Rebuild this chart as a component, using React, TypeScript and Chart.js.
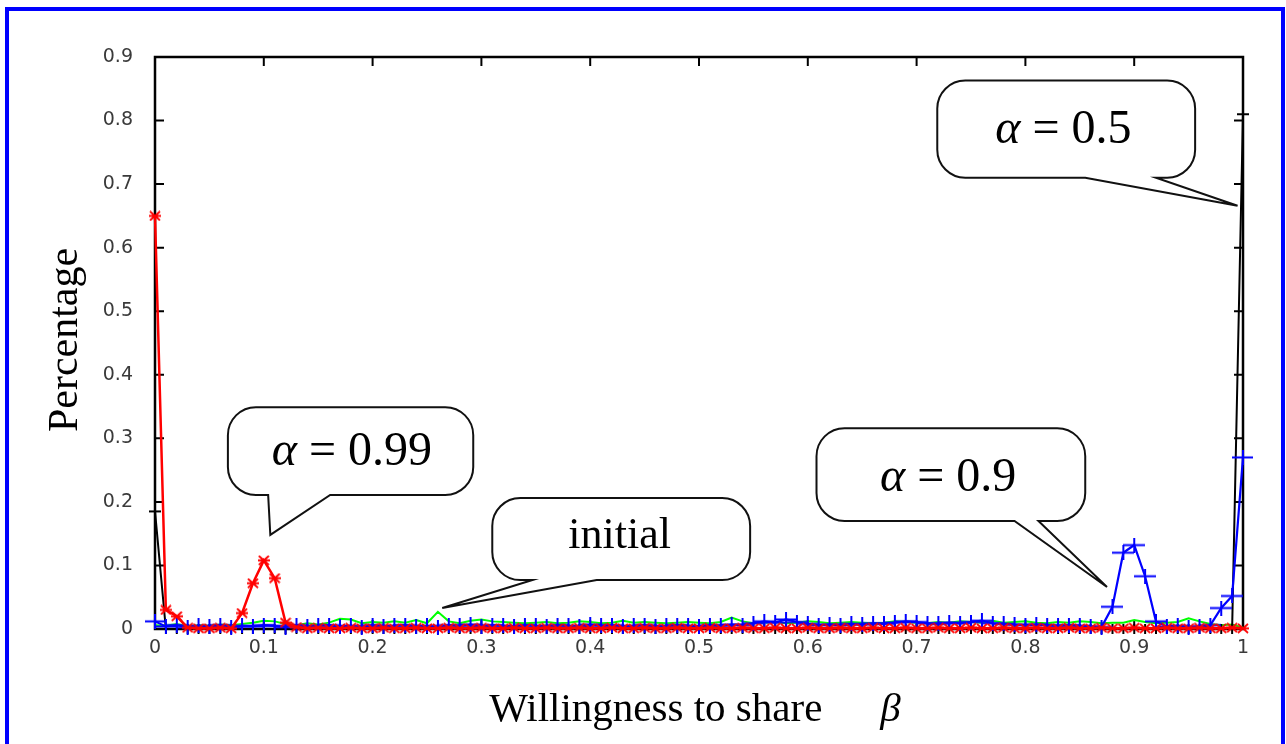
import React, { useEffect, useRef } from "react";
import { Chart, registerables } from "chart.js";
Chart.register(...registerables);

// ---------------- data ----------------
const beta = [
  0, 0.01, 0.02, 0.03, 0.04, 0.05, 0.06, 0.07, 0.08, 0.09,
  0.1, 0.11, 0.12, 0.13, 0.14, 0.15, 0.16, 0.17, 0.18, 0.19,
  0.2, 0.21, 0.22, 0.23, 0.24, 0.25, 0.26, 0.27, 0.28, 0.29,
  0.3, 0.31, 0.32, 0.33, 0.34, 0.35, 0.36, 0.37, 0.38, 0.39,
  0.4, 0.41, 0.42, 0.43, 0.44, 0.45, 0.46, 0.47, 0.48, 0.49,
  0.5, 0.51, 0.52, 0.53, 0.54, 0.55, 0.56, 0.57, 0.58, 0.59,
  0.6, 0.61, 0.62, 0.63, 0.64, 0.65, 0.66, 0.67, 0.68, 0.69,
  0.7, 0.71, 0.72, 0.73, 0.74, 0.75, 0.76, 0.77, 0.78, 0.79,
  0.8, 0.81, 0.82, 0.83, 0.84, 0.85, 0.86, 0.87, 0.88, 0.89,
  0.9, 0.91, 0.92, 0.93, 0.94, 0.95, 0.96, 0.97, 0.98, 0.99,
  1.0,
];

const initialShare = [
  0.006, 0.005, 0.008, 0.004, 0.006, 0.005, 0.007, 0.006, 0.008, 0.01,
  0.013, 0.012, 0.008, 0.006, 0.009, 0.007, 0.01, 0.016, 0.015, 0.009,
  0.011, 0.01, 0.012, 0.01, 0.014, 0.009, 0.027, 0.012, 0.009, 0.013,
  0.015, 0.012, 0.011, 0.01, 0.009, 0.01, 0.011, 0.009, 0.01, 0.012,
  0.011, 0.009, 0.01, 0.013, 0.01, 0.011, 0.01, 0.009, 0.01, 0.011,
  0.01, 0.009, 0.011, 0.018, 0.012, 0.009, 0.01, 0.011, 0.009, 0.01,
  0.012, 0.011, 0.009, 0.01, 0.011, 0.01, 0.009, 0.01, 0.012, 0.011,
  0.01, 0.009, 0.011, 0.01, 0.012, 0.011, 0.01, 0.013, 0.01, 0.011,
  0.012, 0.01, 0.009, 0.011, 0.01, 0.012, 0.011, 0.009, 0.01, 0.01,
  0.014, 0.011, 0.009, 0.01, 0.011, 0.017, 0.012, 0.008, 0.006, 0.007,
  0.002,
];

const alpha05 = [
  0.185, 0, 0, 0, 0, 0, 0, 0, 0, 0,
  0, 0, 0, 0, 0, 0, 0, 0, 0, 0,
  0, 0, 0, 0, 0, 0, 0, 0, 0, 0,
  0, 0, 0, 0, 0, 0, 0, 0, 0, 0,
  0, 0, 0, 0, 0, 0, 0, 0, 0, 0,
  0, 0, 0, 0, 0, 0, 0, 0, 0, 0,
  0, 0, 0, 0, 0, 0, 0, 0, 0, 0,
  0, 0, 0, 0, 0, 0, 0, 0, 0, 0,
  0, 0, 0, 0, 0, 0, 0, 0, 0, 0,
  0, 0, 0, 0, 0, 0, 0, 0, 0, 0,
  0.81,
];

const alpha09 = [
  0.012, 0.004, 0.006, 0.003, 0.005, 0.004, 0.006, 0.003, 0.005, 0.004,
  0.006, 0.005, 0.003, 0.006, 0.004, 0.005, 0.006, 0.004, 0.005, 0.003,
  0.006, 0.004, 0.005, 0.006, 0.004, 0.005, 0.003, 0.006, 0.005, 0.007,
  0.004, 0.006, 0.005, 0.004, 0.006, 0.005, 0.004, 0.006, 0.005, 0.004,
  0.007, 0.005, 0.006, 0.004, 0.005, 0.006, 0.004, 0.005, 0.006, 0.005,
  0.004, 0.006, 0.005, 0.007, 0.006, 0.009, 0.012, 0.01, 0.015, 0.011,
  0.008, 0.006, 0.007, 0.006, 0.008, 0.007, 0.009, 0.008, 0.01, 0.012,
  0.011, 0.009, 0.008, 0.01, 0.009, 0.011, 0.013, 0.009, 0.008, 0.007,
  0.006, 0.007, 0.006, 0.005, 0.006, 0.005, 0.004, 0.003, 0.035, 0.12,
  0.132, 0.083, 0.012, 0.004, 0.005, 0.003, 0.004, 0.006, 0.033, 0.052,
  0.27,
];

const alpha099 = [
  0.65, 0.03, 0.02, 0.002, 0.001, 0.001, 0.002, 0.001, 0.025, 0.072,
  0.108, 0.08, 0.01, 0.003, 0.001, 0.002, 0.001, 0.001, 0.002, 0.001,
  0.001, 0.002, 0.001, 0.001, 0.002, 0.001, 0.001, 0.002, 0.001, 0.001,
  0.002, 0.001, 0.001, 0.002, 0.001, 0.001, 0.002, 0.001, 0.001, 0.002,
  0.001, 0.001, 0.002, 0.001, 0.001, 0.002, 0.001, 0.001, 0.002, 0.001,
  0.001, 0.002, 0.001, 0.001, 0.002, 0.001, 0.001, 0.002, 0.001, 0.001,
  0.002, 0.001, 0.001, 0.002, 0.001, 0.001, 0.002, 0.001, 0.001, 0.002,
  0.001, 0.001, 0.002, 0.001, 0.001, 0.002, 0.001, 0.001, 0.002, 0.001,
  0.001, 0.002, 0.001, 0.001, 0.002, 0.001, 0.001, 0.002, 0.001, 0.001,
  0.002, 0.001, 0.001, 0.002, 0.001, 0.001, 0.002, 0.001, 0.001, 0.002,
  0.001,
];

const xTickLabels = ["0", "0.1", "0.2", "0.3", "0.4", "0.5", "0.6", "0.7", "0.8", "0.9", "1"];
const yTickLabels = ["0", "0.1", "0.2", "0.3", "0.4", "0.5", "0.6", "0.7", "0.8", "0.9"];
const xTitle = "Willingness to share";
const xTitleSymbol = "β";
const yTitle = "Percentage";

// callout annotations (positions in data coordinates)
const callouts = [
  { greek: "α", rest: " = 0.5", plain: "", box: [0.719, 0.956, 0.863, 0.71], base: [0.855, 0.92], tip: [0.995, 0.666], at: [0.835, 0.785] },
  { greek: "α", rest: " = 0.99", plain: "", box: [0.067, 0.2925, 0.349, 0.211], base: [0.104, 0.161], tip: [0.106, 0.148], at: [0.181, 0.278] },
  { greek: "", rest: "", plain: "initial", box: [0.31, 0.547, 0.206, 0.077], base: [0.347, 0.406], tip: [0.264, 0.033], at: [0.427, 0.146] },
  { greek: "α", rest: " = 0.9", plain: "", box: [0.608, 0.855, 0.316, 0.17], base: [0.79, 0.812], tip: [0.875, 0.066], at: [0.729, 0.237] },
];

// ---------------- markers ----------------
function makeCross(w: number, h: number, color: string, lw: number) {
  const c = document.createElement("canvas");
  c.width = w;
  c.height = h;
  const g = c.getContext("2d")!;
  g.strokeStyle = color;
  g.lineWidth = lw;
  g.beginPath();
  g.moveTo(0, h / 2);
  g.lineTo(w, h / 2);
  g.moveTo(w / 2, 0);
  g.lineTo(w / 2, h);
  g.stroke();
  return c;
}
function makeStar(w: number, h: number, color: string, lw: number) {
  const c = document.createElement("canvas");
  c.width = w;
  c.height = h;
  const g = c.getContext("2d")!;
  g.strokeStyle = color;
  g.lineWidth = lw;
  g.beginPath();
  g.moveTo(1, 1);
  g.lineTo(w - 1, h - 1);
  g.moveTo(w - 1, 1);
  g.lineTo(1, h - 1);
  g.moveTo(0, h / 2);
  g.lineTo(w, h / 2);
  g.stroke();
  return c;
}

const framePlugin = {
  id: "frame",
  beforeDatasetsDraw(chart: any) {
    const { ctx, chartArea: a, scales } = chart;
    ctx.save();
    ctx.strokeStyle = "#000";
    ctx.lineWidth = 2.5;
    ctx.strokeRect(a.left, a.top, a.right - a.left, a.bottom - a.top);
    ctx.lineWidth = 2;
    const tl = 9;
    for (let i = 0; i < xTickLabels.length; i++) {
      const px = scales.x.getPixelForValue(i / 10);
      ctx.beginPath();
      ctx.moveTo(px, a.bottom);
      ctx.lineTo(px, a.bottom - tl);
      ctx.moveTo(px, a.top);
      ctx.lineTo(px, a.top + tl);
      ctx.stroke();
    }
    for (let i = 0; i < yTickLabels.length; i++) {
      const py = scales.y.getPixelForValue(i / 10);
      ctx.beginPath();
      ctx.moveTo(a.left, py);
      ctx.lineTo(a.left + tl, py);
      ctx.moveTo(a.right, py);
      ctx.lineTo(a.right - tl, py);
      ctx.stroke();
    }
    ctx.restore();
  },
  afterDatasetsDraw(chart: any) {
    const { ctx, chartArea: a, scales } = chart;
    const X = (v: number) => scales.x.getPixelForValue(v);
    const Y = (v: number) => scales.y.getPixelForValue(v);
    ctx.save();
    for (const c of callouts) {
      const x0 = X(c.box[0]);
      const x1 = X(c.box[1]);
      const y0 = Y(c.box[2]);
      const y1 = Y(c.box[3]);
      const b0 = X(c.base[0]);
      const b1 = X(c.base[1]);
      const tx = X(c.tip[0]);
      const ty = Y(c.tip[1]);
      const r = 28;
      ctx.beginPath();
      ctx.moveTo(x0 + r, y0);
      ctx.lineTo(x1 - r, y0);
      ctx.arcTo(x1, y0, x1, y0 + r, r);
      ctx.lineTo(x1, y1 - r);
      ctx.arcTo(x1, y1, x1 - r, y1, r);
      ctx.lineTo(b1, y1);
      ctx.lineTo(tx, ty);
      ctx.lineTo(b0, y1);
      ctx.lineTo(x0 + r, y1);
      ctx.arcTo(x0, y1, x0, y1 - r, r);
      ctx.lineTo(x0, y0 + r);
      ctx.arcTo(x0, y0, x0 + r, y0, r);
      ctx.closePath();
      ctx.fillStyle = "#fff";
      ctx.fill();
      ctx.strokeStyle = "#111";
      ctx.lineWidth = 2;
      ctx.lineJoin = "miter";
      ctx.stroke();

      const cx = X(c.at[0]);
      const cy = Y(c.at[1]);
      ctx.fillStyle = "#000";
      ctx.textBaseline = "middle";
      ctx.textAlign = "left";
      if (c.plain) {
        ctx.font = '44px "Liberation Serif", serif';
        const w = ctx.measureText(c.plain).width;
        ctx.fillText(c.plain, cx - w / 2, cy);
      } else {
        const fi = 'italic 48px "Liberation Serif", serif';
        const fr = '48px "Liberation Serif", serif';
        ctx.font = fi;
        const wg = ctx.measureText(c.greek).width;
        ctx.font = fr;
        const wr = ctx.measureText(c.rest).width;
        const start = cx - (wg + wr) / 2;
        ctx.font = fi;
        ctx.fillText(c.greek, start, cy);
        ctx.font = fr;
        ctx.fillText(c.rest, start + wg, cy);
      }
    }

    // axis titles
    ctx.fillStyle = "#000";
    ctx.textBaseline = "alphabetic";
    ctx.textAlign = "left";
    ctx.font = '41px "Liberation Serif", serif';
    const wt = ctx.measureText(xTitle).width;
    ctx.font = 'italic 41px "Liberation Serif", serif';
    const wb = ctx.measureText(xTitleSymbol).width;
    const gap = 58;
    const midX = (a.left + a.right) / 2 - 4;
    const sx = midX - (wt + gap + wb) / 2;
    ctx.font = '41px "Liberation Serif", serif';
    ctx.fillText(xTitle, sx, 721);
    ctx.font = 'italic 41px "Liberation Serif", serif';
    ctx.fillText(xTitleSymbol, sx + wt + gap, 721);

    ctx.translate(77, (a.top + a.bottom) / 2 - 3);
    ctx.rotate(-Math.PI / 2);
    ctx.textAlign = "center";
    ctx.font = '42px "Liberation Serif", serif';
    ctx.fillText(yTitle, 0, 0);
    ctx.restore();
  },
};

export default function App() {
  const ref = useRef<HTMLCanvasElement | null>(null);
  useEffect(() => {
    if (!ref.current) return;
    const blueCross = makeCross(22, 15, "#0000ff", 2);
    const redStar = makeStar(12, 11, "#ff0000", 1.8);
    const blackCross = makeCross(12, 10, "#000", 2);
    const pts = (vals: number[]) => beta.map((b, i) => ({ x: b, y: vals[i] }));
    const chart = new Chart(ref.current, {
      type: "line",
      data: {
        datasets: [
          {
            label: "alpha=0.99",
            data: pts(alpha099),
            borderColor: "#ff0000",
            borderWidth: 2.5,
            pointStyle: redStar as any,
            pointRadius: 6,
            order: 0,
            clip: 10,
          },
          {
            label: "alpha=0.9",
            data: pts(alpha09),
            borderColor: "#0000ff",
            borderWidth: 2.2,
            pointStyle: blueCross as any,
            pointRadius: 8,
            order: 1,
            clip: 10,
          },
          {
            label: "alpha=0.5",
            data: pts(alpha05),
            borderColor: "#000",
            borderWidth: 2,
            pointStyle: blackCross as any,
            pointRadius: 6,
            order: 2,
            clip: 10,
          },
          {
            label: "initial",
            data: pts(initialShare),
            borderColor: "#00ff00",
            borderWidth: 2,
            pointRadius: 0,
            order: 3,
            clip: 10,
          },
        ],
      },
      options: {
        responsive: false,
        animation: false,
        events: [],
        layout: { padding: { left: 0, right: 43, top: 57, bottom: 0 } },
        plugins: { legend: { display: false }, tooltip: { enabled: false } },
        elements: { line: { tension: 0 } },
        scales: {
          x: {
            type: "linear",
            min: 0,
            max: 1,
            grid: { display: false, drawTicks: false },
            border: { display: false },
            ticks: {
              stepSize: 0.1,
              padding: 8,
              color: "#3a3a3a",
              font: { family: "DejaVu Sans", size: 19 },
              maxRotation: 0,
              callback: (_v: any, i: number) => xTickLabels[i],
            },
            afterFit: (s: any) => {
              s.height = 115;
            },
          },
          y: {
            type: "linear",
            min: 0,
            max: 0.9,
            grid: { display: false, drawTicks: false },
            border: { display: false },
            ticks: {
              stepSize: 0.1,
              padding: 22,
              color: "#3a3a3a",
              font: { family: "DejaVu Sans", size: 19 },
              callback: (_v: any, i: number) => yTickLabels[i],
            },
            afterFit: (s: any) => {
              s.width = 155;
            },
          },
        },
      },
      plugins: [framePlugin],
    });
    return () => chart.destroy();
  }, []);

  return (
    <div style={{ position: "fixed", left: 0, top: 0, width: 1286, height: 744, background: "#fff", overflow: "hidden" }}>
      <canvas ref={ref} width={1286} height={744} style={{ position: "absolute", left: 0, top: 0, width: 1286, height: 744 }} />
      <div
        style={{
          position: "absolute",
          left: 5,
          top: 7,
          width: 1280,
          height: 800,
          border: "4px solid #0000ff",
          boxSizing: "border-box",
          pointerEvents: "none",
        }}
      />
    </div>
  );
}
